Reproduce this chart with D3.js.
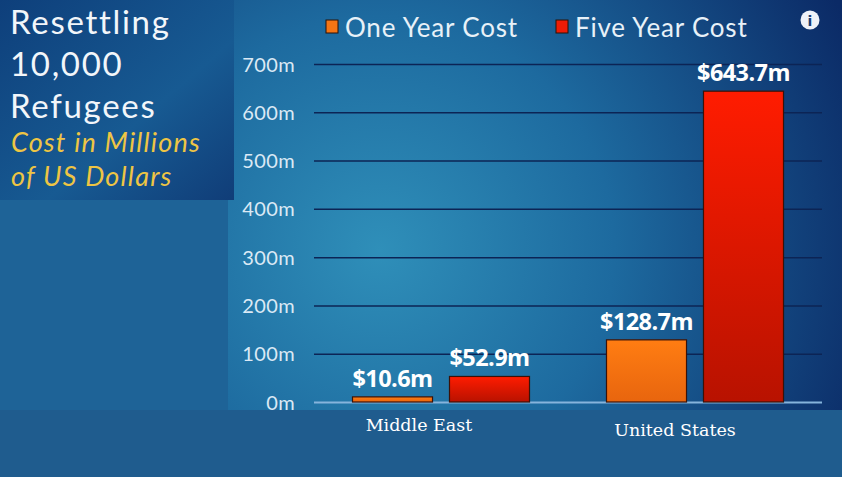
<!DOCTYPE html>
<html><head><meta charset="utf-8">
<script src="https://cdn.jsdelivr.net/npm/d3@7"></script>
<style>html,body{margin:0;padding:0;background:#1f5c8e;overflow:hidden}</style>
</head><body><svg id="c" width="842" height="477"></svg>
<script>
const categories = ["Middle East", "United States"];
const seriesNames = ["One Year Cost", "Five Year Cost"];
const oneYear = [10.6, 128.7];
const fiveYear = [52.9, 643.7];
const valueLabels = [["$10.6m", "$52.9m"], ["$128.7m", "$643.7m"]];
const yTicks = [0, 100, 200, 300, 400, 500, 600, 700];
const titleLines = ["Resettling", "10,000", "Refugees"];
const subtitleLines = ["Cost in Millions", "of US Dollars"];

const svg = d3.select("#c");
const defs = svg.append("defs");

const rg = defs.append("radialGradient").attr("id","bg").attr("gradientUnits","userSpaceOnUse")
  .attr("cx",380).attr("cy",250).attr("r",520).attr("fx",380).attr("fy",250);
rg.append("stop").attr("offset","0").attr("stop-color","#2f8fb9");
rg.append("stop").attr("offset","0.45").attr("stop-color","#1d6a9f");
rg.append("stop").attr("offset","1").attr("stop-color","#0b2a66");

const tg = defs.append("linearGradient").attr("id","tbg").attr("x1","0").attr("y1","0").attr("x2","1").attr("y2","1");
tg.append("stop").attr("offset","0").attr("stop-color","#0e3f7b");
tg.append("stop").attr("offset","0.6").attr("stop-color","#175a92");
tg.append("stop").attr("offset","1").attr("stop-color","#103d78");

const og = defs.append("linearGradient").attr("id","og").attr("x1","0").attr("y1","0").attr("x2","0").attr("y2","1");
og.append("stop").attr("offset","0").attr("stop-color","#ff7d12");
og.append("stop").attr("offset","1").attr("stop-color","#e8650e");
const redg = defs.append("linearGradient").attr("id","rg").attr("x1","0").attr("y1","0").attr("x2","0").attr("y2","1");
redg.append("stop").attr("offset","0").attr("stop-color","#ff1c00");
redg.append("stop").attr("offset","1").attr("stop-color","#b81200");

// backgrounds
svg.append("rect").attr("x",0).attr("y",0).attr("width",842).attr("height",477).attr("fill","#1f5c8e");
svg.append("rect").attr("x",0).attr("y",200).attr("width",230).attr("height",210).attr("fill","#1e6397");
svg.append("rect").attr("x",228).attr("y",0).attr("width",614).attr("height",410).attr("fill","url(#bg)");
svg.append("rect").attr("x",0).attr("y",0).attr("width",234).attr("height",200).attr("fill","url(#tbg)");

// scales
const y = d3.scaleLinear().domain([0,700]).range([402,64]);
const x0 = d3.scaleBand().domain(categories).range([314,822]).padding(0);
const x1 = d3.scaleBand().domain(seriesNames).range([38.5, 215.5]).paddingInner(0.175);
const color = d3.scaleOrdinal().domain(seriesNames).range(["url(#og)","url(#rg)"]);
const legendColor = d3.scaleOrdinal().domain(seriesNames).range(["#f57514","#ee1c06"]);

const font = "'Lato','Open Sans',sans-serif";

// y axis gridlines
const yAxis = d3.axisLeft(y).tickValues(yTicks).tickSize(-(822-314)).tickFormat(d => d + "m").tickPadding(19);
const ga = svg.append("g").attr("transform","translate(314,0)").call(yAxis);
ga.select(".domain").remove();
ga.selectAll(".tick line").attr("stroke", d => d === 0 ? "#86b4dc" : "#0c2455").attr("stroke-width", d => d===0?2:1.5);
ga.selectAll(".tick text").attr("fill","#dbe9f5").attr("font-family",font)
  .attr("font-size",20).attr("letter-spacing","0.4").attr("dy","0.35em");

// bars
const data = categories.map((c,i) => ({cat:c, vals:[
  {s:seriesNames[0], v:oneYear[i], lab:valueLabels[i][0]},
  {s:seriesNames[1], v:fiveYear[i], lab:valueLabels[i][1]}]}));

const groups = svg.append("g").selectAll("g").data(data).join("g")
  .attr("transform", d => `translate(${x0(d.cat)},0)`);
groups.selectAll("rect").data(d => d.vals).join("rect")
  .attr("x", d => x1(d.s)).attr("width", x1.bandwidth())
  .attr("y", d => y(d.v)).attr("height", d => y(0) - y(d.v))
  .attr("fill", d => color(d.s)).attr("stroke","#3a1208").attr("stroke-width",1.2);
groups.selectAll("text.val").data(d => d.vals).join("text").attr("class","val")
  .attr("x", d => x1(d.s) + x1.bandwidth()/2).attr("y", d => y(d.v) - 10)
  .attr("text-anchor","middle").attr("fill","#ffffff").attr("font-weight","bold")
  .attr("font-family","'Open Sans',sans-serif").attr("font-size",23.5).attr("letter-spacing","-0.6")
  .text(d => d.lab);

// category labels
svg.append("g").selectAll("text").data(categories).join("text")
  .attr("x", d => x0(d) + x0.bandwidth()/2 - 22 + (d==="United States"?2:0))
  .attr("y", (d,i) => i===0 ? 431 : 436)
  .attr("text-anchor","middle").attr("fill","#ffffff").attr("font-family","'DejaVu Serif',serif")
  .attr("font-size",17.5).text(d => d);

// legend
const legendX = [326, 556];
const lg = svg.append("g").selectAll("g").data(seriesNames).join("g")
  .attr("transform",(d,i)=>`translate(${legendX[i]},0)`);
lg.append("rect").attr("x",0).attr("y",20).attr("width",12).attr("height",13)
  .attr("fill", d => legendColor(d)).attr("stroke","#2a1208").attr("stroke-width",1);
lg.append("text").attr("x",19).attr("y",37).attr("fill","#e8f1f8").attr("font-family",font)
  .attr("font-size",26).attr("letter-spacing","0.8").text(d => d);

// info icon
svg.append("circle").attr("cx",810).attr("cy",20).attr("r",9.5).attr("fill","#eef2f8");
svg.append("text").attr("x",810).attr("y",26).attr("text-anchor","middle").attr("fill","#1a3c72")
  .attr("font-family","'DejaVu Sans',sans-serif").attr("font-weight","bold").attr("font-size",14).text("i");

// title
const titleY = [33.5, 76, 118];
svg.append("g").selectAll("text").data(titleLines).join("text")
  .attr("x",10).attr("y",(d,i)=>titleY[i]).attr("fill","#f2f6fa").attr("font-family",font)
  .attr("font-size",33).attr("letter-spacing","1.7").text(d => d);
svg.append("g").selectAll("text").data(subtitleLines).join("text")
  .attr("x",11).attr("y",(d,i)=>152 + i*34).attr("fill","#eec544").attr("font-family",font)
  .attr("font-style","italic").attr("font-size",27).attr("letter-spacing","1.2").text(d => d);
</script></body></html>
